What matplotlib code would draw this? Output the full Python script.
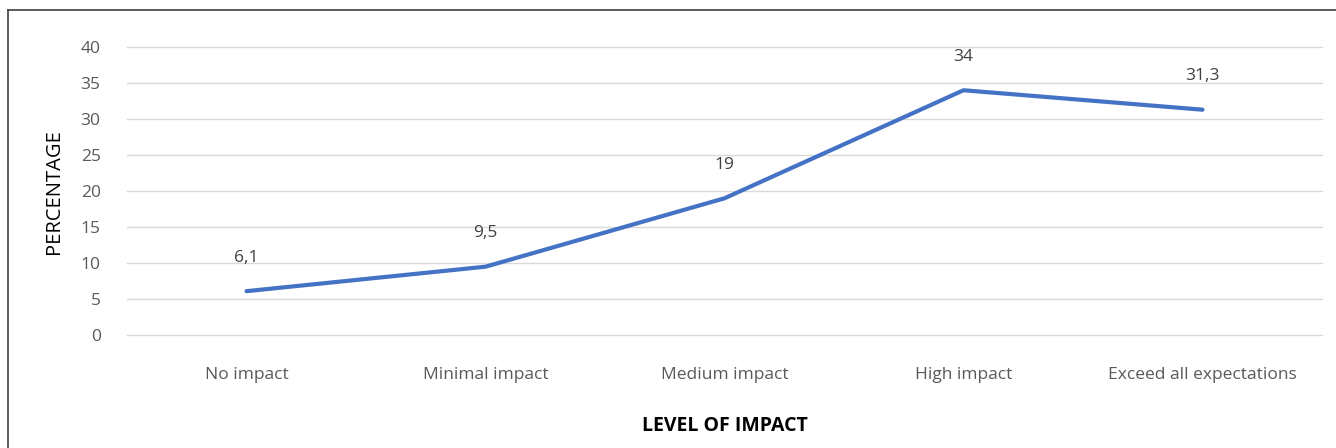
import matplotlib.pyplot as plt
from matplotlib.lines import Line2D

levels = ['No impact', 'Minimal impact', 'Medium impact', 'High impact', 'Exceed all expectations']
percentages = [6.1, 9.5, 19, 34, 31.3]
value_labels = ['6,1', '9,5', '19', '34', '31,3']
y_ticks = [0, 5, 10, 15, 20, 25, 30, 35, 40]

plt.rcParams['font.family'] = ['Open Sans', 'DejaVu Sans']
text_grey = '#595959'

fig = plt.figure(figsize=(13.36, 4.48), dpi=100)
ax = fig.add_axes([0.0951, 0.252, 0.8944, 0.643])

x = list(range(len(levels)))
ax.plot(x, percentages, color='#4472C4', linewidth=3, solid_capstyle='round')

for xi, yi, lab in zip(x, percentages, value_labels):
    ax.annotate(lab, (xi, yi), xytext=(0, 24), textcoords='offset points',
                ha='center', va='center', fontsize=12.5, color='#404040')

ax.set_xlim(-0.5, len(levels) - 0.5)
ax.set_ylim(0, 40)
ax.set_yticks(y_ticks)
ax.set_xticks(x)
ax.set_xticklabels(levels)
ax.yaxis.grid(True, color='#d9d9d9', linewidth=1)
for gl in ax.get_ygridlines():
    gl.set_clip_on(False)
ax.set_axisbelow(True)
for side in ['top', 'right', 'left', 'bottom']:
    ax.spines[side].set_visible(False)
ax.tick_params(axis='both', length=0, labelsize=12.5, colors=text_grey)
ax.tick_params(axis='x', pad=23)
ax.tick_params(axis='y', pad=19)

ax.set_ylabel('PERCENTAGE', fontsize=14.5, color='black', labelpad=12)
ax.set_xlabel('LEVEL OF IMPACT', fontsize=14, fontweight='bold', color='black', labelpad=24)

# chart frame, only the left and top edges fall inside the image
fig.add_artist(Line2D([8 / 1336, 8 / 1336], [0, 1 - 10 / 448], color='#404040', linewidth=1.2))
fig.add_artist(Line2D([8 / 1336, 1], [1 - 10 / 448, 1 - 10 / 448], color='#404040', linewidth=1.2))

fig.savefig('out.png', dpi=100)
